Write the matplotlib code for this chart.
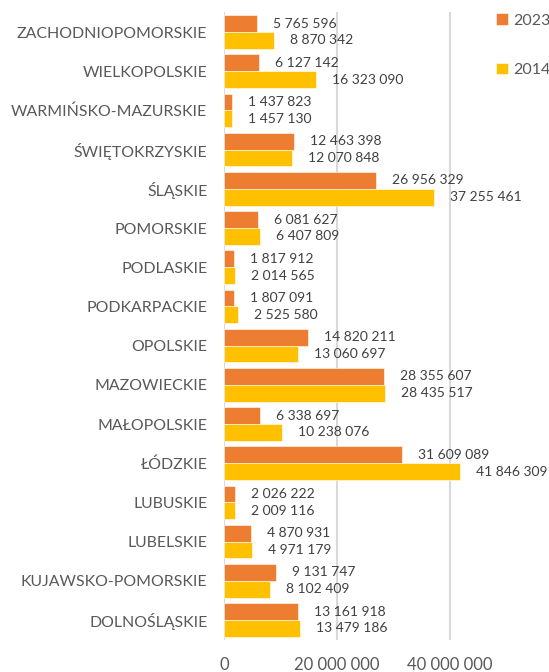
import matplotlib
matplotlib.use("Agg")
import matplotlib.pyplot as plt
import numpy as np

categories = ["ZACHODNIOPOMORSKIE", "WIELKOPOLSKIE", "WARMIŃSKO-MAZURSKIE", "ŚWIĘTOKRZYSKIE",
              "ŚLĄSKIE", "POMORSKIE", "PODLASKIE", "PODKARPACKIE", "OPOLSKIE", "MAZOWIECKIE",
              "MAŁOPOLSKIE", "ŁÓDZKIE", "LUBUSKIE", "LUBELSKIE", "KUJAWSKO-POMORSKIE", "DOLNOŚLĄSKIE"]
v2023 = [5765596, 6127142, 1437823, 12463398, 26956329, 6081627, 1817912, 1807091,
         14820211, 28355607, 6338697, 31609089, 2026222, 4870931, 9131747, 13161918]
v2014 = [8870342, 16323090, 1457130, 12070848, 37255461, 6407809, 2014565, 2525580,
         13060697, 28435517, 10238076, 41846309, 2009116, 4971179, 8102409, 13479186]
xticks = [0, 20000000, 40000000]
xticklabels = ["0", "20 000 000", "40 000 000"]

plt.rcParams['font.family'] = ['Lato', 'DejaVu Sans']
C23 = "#ED7D31"
C14 = "#FFC000"
TXT = "#595959"

fig = plt.figure(figsize=(5.49, 6.72), dpi=100)
ax = fig.add_axes([224/549, 32.4/672, (478-224)/549, 627.2/672])

n = len(categories)
y = np.arange(n)
h = 0.43
ax.barh(y - h/2, v2023, height=h, color=C23, edgecolor="white", linewidth=0.4, label="2023", zorder=3)
ax.barh(y + h/2, v2014, height=h, color=C14, edgecolor="white", linewidth=0.4, label="2014", zorder=3)

fmt = lambda v: f"{v:,}".replace(",", " ")
for i in range(n):
    ax.annotate(fmt(v2023[i]), xy=(v2023[i], y[i] - h/2), xytext=(16, 0), textcoords="offset pixels",
                ha="left", va="center", fontsize=10, color="#404040", annotation_clip=False)
    ax.annotate(fmt(v2014[i]), xy=(v2014[i], y[i] + h/2), xytext=(16, 0), textcoords="offset pixels",
                ha="left", va="center", fontsize=10, color="#404040", annotation_clip=False)

ax.set_ylim(n - 0.5, -0.5)
ax.set_xlim(0, 45000000)
ax.set_yticks(y)
ax.set_yticklabels(categories, fontsize=11.4, color=TXT)
ax.set_xticks(xticks)
ax.set_xticklabels(xticklabels, fontsize=12, color=TXT)
ax.tick_params(axis="both", length=0)
ax.tick_params(axis="y", pad=12)
ax.tick_params(axis="x", pad=12.5)
for s in ax.spines.values():
    s.set_visible(False)
ax.grid(axis="x", color="#D9D9D9", linewidth=1.5, zorder=0)
ax.set_axisbelow(True)

leg = fig.legend(loc="upper left", bbox_to_anchor=(490/549, 1 - 7/672), frameon=False,
                 fontsize=11.5, handlelength=0.7, handleheight=0.7, handletextpad=0.35,
                 labelspacing=2.2, borderaxespad=0)
for t in leg.get_texts():
    t.set_color(TXT)

fig.savefig("out.png", dpi=100)
